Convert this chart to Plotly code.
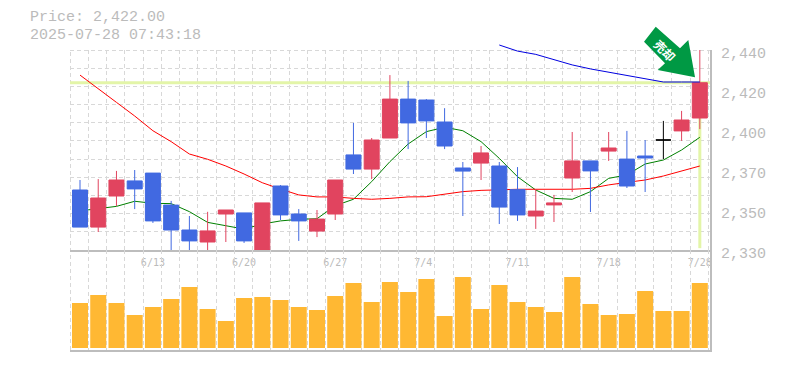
import plotly.graph_objects as go

dates = ["6/9","6/10","6/11","6/12","6/13","6/16","6/17","6/18","6/19","6/20","6/23","6/24","6/25","6/26","6/27",
         "6/30","7/1","7/2","7/3","7/4","7/7","7/8","7/9","7/10","7/11","7/14","7/15","7/16","7/17","7/18",
         "7/22","7/23","7/24","7/25","7/28"]
tick_dates = ["6/13","6/20","6/27","7/4","7/11","7/18","7/28"]

high = [2368.5,2369,2373.5,2374,2372.3,2357,2348.7,2351,2352,2350.4,2355.9,2365.7,2352.5,2352,2368.5,
        2399.9,2391.6,2426.2,2423,2413,2408,2378.4,2387.2,2378.4,2375.6,2363.5,2360.3,2394.9,2379,2394.9,
        2395.5,2390.5,2401,2406.5,2440]
low = [2342.6,2339.9,2354.2,2352.5,2344.9,2330,2330,2330,2334.4,2333.9,2330,2346.5,2335,2337.1,2346.5,
       2371.8,2369,2391.6,2385.5,2391.6,2385.5,2348.7,2368.5,2344.3,2346,2341.6,2345.4,2361.9,2350.9,2379,
       2364.1,2361.9,2380,2390,2396.5]
opens = [2363,2342.6,2359.7,2368,2372.3,2354.7,2341,2334.4,2349.8,2350.4,2330,2365.2,2349.8,2340.4,2349.8,
         2382.3,2374.5,2391.6,2413,2412.5,2400.4,2375.1,2377.8,2376.2,2363.2,2348.7,2354.8,2369.6,2379,2384.4,
         2380,2381.7,2390.5,2395.5,2402.6]
close = [2342.6,2358.6,2368.5,2363.6,2346,2341,2335,2340.5,2352,2335,2355.9,2349.3,2346,2347,2368.5,
         2374.5,2390.5,2413,2399.9,2401,2387.2,2373.4,2383.4,2353.6,2349.3,2351.4,2355.9,2379,2373.5,2386.1,
         2365.2,2380.6,2390.5,2401.5,2422]
ma_short = [2351.5,2352.9,2354,2356.8,2355.7,2355.5,2351.1,2345.2,2343.4,2341.5,2344.3,2346,2346.9,2347.2,2354.4,
            2357.9,2367.6,2378.6,2388.3,2395.1,2397.5,2395.6,2389.6,2380.4,2370.3,2363,2358.4,2357.9,2362.1,2369.4,
            2371.3,2377.3,2379.5,2385,2392]
ma_mid = [2426.2,2418.9,2411.2,2403.7,2395.6,2389.6,2382.8,2379.9,2376.2,2371.8,2367,2363.5,2360.3,2359.2,2359.2,
          2358.4,2357.9,2358.4,2359.2,2359.3,2360.8,2362.1,2362.8,2363.2,2363.4,2363.4,2363.4,2363.4,2363.9,2365.8,
          2367.2,2368.5,2370.7,2373.5,2376.2]
ma_long = [None]*23 + [2442.75,2439.4,2437.6,2434.5,2431.8,2429.6,2427.7,2425.9,2423.9,2422.4,2422.4,2422.4]
volume = [45,53,45,33,41,49,61,39,27,50,51,48,41,38,52,65,46,66,56,69,32,71,39,63,46,41,36,71,44,33,34,57,37,37,65]

price_ticks = [2440,2418,2396,2374,2352,2330]
price_labels = ["2,440","2,420","2,400","2,370","2,350","2,330"]

W, H = 785, 370
L, R, T, B = 70, 710, 50, 350
PT = 40      # top of the drawing area: the long average runs above the price panel
MID = 250
STEP = 18.23
CENTER0 = 80.0
def xval(px):
    return (px - CENTER0) / STEP

n = len(dates)
idx = list(range(n))
last_price = close[-1]
xmin, xmax = xval(L), xval(R)
ymin, ymax = 2330, 2440
per_px = (ymax - ymin) / (MID - T)

UP, DOWN = "#E1445F", "#4169E1"
TXT = "#BBBBBB"
GRID_COLOR = "#D8D8D8"
DASH = "4px,3px"
GRID = dict(showgrid=True, gridcolor=GRID_COLOR, griddash=DASH, gridwidth=1)
FRAME = "#BDBDBD"

fig = go.Figure()
fig.add_trace(go.Scatter(x=[xmin, xmax], y=[last_price]*2, mode="lines", line=dict(color="#E3F5A8", width=3), xaxis="x", yaxis="y", showlegend=False))
fig.add_trace(go.Scatter(x=[idx[-1]]*2, y=[last_price, 2331], mode="lines", line=dict(color="#E3F5A8", width=3), xaxis="x", yaxis="y", showlegend=False))
for vals, col in [(ma_short, "#008000"), (ma_mid, "#FF0000")]:
    fig.add_trace(go.Scatter(x=idx, y=vals, mode="lines", line=dict(color=col, width=1), xaxis="x", yaxis="y", showlegend=False))
fig.add_trace(go.Scatter(x=idx, y=ma_long, mode="lines", line=dict(color="#0000E0", width=1), xaxis="x3", yaxis="y5", showlegend=False))

doji = [i for i in idx if opens[i] == close[i]]
solid = [i for i in idx if i not in doji]
def pick(a, ids):
    return [a[i] for i in ids]
fig.add_trace(go.Candlestick(x=solid, open=pick(opens, solid), high=pick(high, solid), low=pick(low, solid), close=pick(close, solid),
                             increasing=dict(line=dict(color=UP, width=1), fillcolor=UP),
                             decreasing=dict(line=dict(color=DOWN, width=1), fillcolor=DOWN),
                             whiskerwidth=0, xaxis="x", yaxis="y2", showlegend=False))
fig.add_trace(go.Candlestick(x=doji, open=pick(opens, doji), high=pick(high, doji), low=pick(low, doji), close=pick(close, doji),
                             increasing=dict(line=dict(color="#000000", width=1), fillcolor="#000000"),
                             decreasing=dict(line=dict(color="#000000", width=1), fillcolor="#000000"),
                             whiskerwidth=0, xaxis="x", yaxis="y2", showlegend=False))
fig.add_trace(go.Bar(x=idx, y=volume, marker=dict(color="#FFB833", line=dict(width=0)), width=16/STEP,
                     xaxis="x2", yaxis="y3", showlegend=False))
fig.add_trace(go.Scatter(x=[None], y=[None], mode="lines", xaxis="x3", yaxis="y4", showlegend=False))

PH = B - PT
def fx(p): return (p-L)/(R-L)
def fy(p): return 1-(p-PT)/PH

minor_x = dict(tick0=xval(70.3), dtick=1, ticklen=0, **GRID)
tickvals_x = [dates.index(d) for d in tick_dates]
ticktext_x = [d.ljust(4, "\u00a0") for d in tick_dates]

LABEL_DROP = 3
EXT = 20
lab_top = ymax + LABEL_DROP * per_px
lab_bot = lab_top - (MID - T + EXT) * per_px

fig.update_layout(
    width=W, height=H, autosize=False,
    margin=dict(l=L, r=W-R, t=PT, b=H-B, pad=0),
    paper_bgcolor="white", plot_bgcolor="rgba(0,0,0,0)", showlegend=False, boxgap=0.177, boxgroupgap=0,
    font=dict(family="Liberation Mono", color=TXT, size=15),
    xaxis=dict(domain=[0, 1], anchor="y", range=[xmin, xmax], showgrid=False, zeroline=False, rangeslider=dict(visible=False),
               tickmode="array", tickvals=tickvals_x, ticktext=ticktext_x, ticks="outside", ticklen=2, tickcolor="rgba(0,0,0,0)",
               tickfont=dict(family="DejaVu Sans Mono", size=10, color=TXT),
               showline=True, linecolor=FRAME, linewidth=1.5, minor=minor_x),
    xaxis2=dict(domain=[0, 1], anchor="y3", matches="x", showgrid=False, zeroline=False, showticklabels=False, ticks="",
                rangeslider=dict(visible=False), showline=True, linecolor=FRAME, linewidth=2, minor=minor_x),
    xaxis3=dict(domain=[0, 1], anchor="y5", matches="x", showgrid=False, zeroline=False, showticklabels=False, ticks="", showline=False),
    yaxis=dict(domain=[fy(MID), fy(T)], anchor="x", side="right", range=[ymin, ymax], zeroline=False,
               tickmode="linear", tick0=ymin, dtick=10, showticklabels=False, ticks="",
               showline=True, linecolor=FRAME, linewidth=1.5, **GRID),
    yaxis2=dict(domain=[fy(MID), fy(T)], anchor="x", overlaying="y", side="right", range=[ymin, ymax], visible=False),
    yaxis3=dict(domain=[0, fy(MID)], anchor="x2", side="right", range=[-2, 98], showgrid=False, zeroline=False,
                showticklabels=False, ticks="", showline=True, linecolor=FRAME, linewidth=1.5),
    yaxis4=dict(domain=[fy(MID + EXT), fy(T)], anchor="x3", position=1, side="right", range=[lab_bot, lab_top], showgrid=False, zeroline=False,
                tickmode="array", tickvals=price_ticks, ticktext=price_labels, showline=False,
                ticks="outside", ticklen=7, tickcolor="rgba(0,0,0,0)",
                tickfont=dict(family="Liberation Mono", size=15, color=TXT)),
    yaxis5=dict(domain=[fy(MID), 1], anchor="x3", side="right", range=[ymin, ymax + (T - PT) * per_px], visible=False),
    annotations=[
        dict(text=f"Price: {last_price:,.2f}", xref="paper", yref="paper", x=fx(28), y=fy(18), xanchor="left", yanchor="middle",
             showarrow=False, font=dict(family="Liberation Mono", size=15, color=TXT)),
        dict(text="2025-07-28 07:43:18", xref="paper", yref="paper", x=fx(28), y=fy(35), xanchor="left", yanchor="middle",
             showarrow=False, font=dict(family="Liberation Mono", size=15, color=TXT)),
        dict(text="<b>売却</b>", xref="paper", yref="paper", x=fx(664.5), y=fy(50), xanchor="center", yanchor="middle",
             textangle=45, showarrow=False, font=dict(family="Noto Sans CJK JP", size=12, color="white")),
    ],
)

edge = dict(color=GRID_COLOR, width=1, dash=DASH)
fig.add_shape(type="line", xref="paper", yref="paper", x0=fx(70.5), x1=fx(70.5), y0=0, y1=fy(T), line=edge, layer="below")
fig.add_shape(type="line", xref="paper", yref="paper", x0=0, x1=1, y0=fy(50.5), y1=fy(50.5), line=edge, layer="below")

arrow = [(655.7,26.7),(644,41.7),(665,63.3),(657.7,70),(695,77.3),(688.3,40),(680,48.3)]
path = "M " + " L ".join(f"{fx(a):.4f},{fy(b):.4f}" for a,b in arrow) + " Z"
fig.add_shape(type="path", path=path, xref="paper", yref="paper", fillcolor="#009944", line=dict(width=0), layer="above")

fig.write_html("out.html", post_script="document.body.style.margin='0';", config={"displayModeBar": False})
